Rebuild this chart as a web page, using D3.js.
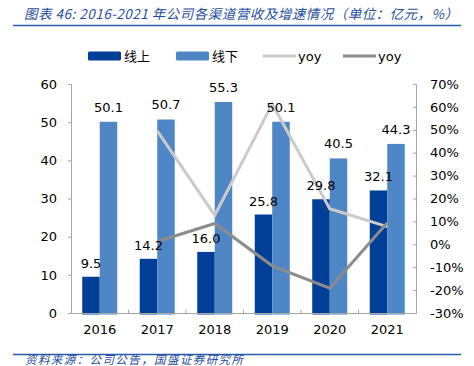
<!DOCTYPE html>
<html>
<head>
<meta charset="utf-8">
<script src="https://cdn.jsdelivr.net/npm/d3@7"></script>
<style>
  body { margin: 0; background: #fff; }
  svg { display: block; }
</style>
</head>
<body>
<div id="chart"></div>
<script>
// chart data
var years = ["2016", "2017", "2018", "2019", "2020", "2021"];
var online = [9.5, 14.2, 16.0, 25.8, 29.8, 32.1];
var offline = [50.1, 50.7, 55.3, 50.1, 40.5, 44.3];
var onlineYoy = [null, 49.5, 12.7, 61.3, 15.5, 7.7];
var offlineYoy = [null, 1.2, 9.1, -9.4, -19.2, 9.4];
var leftTicks = [0, 10, 20, 30, 40, 50, 60];
var rightTicks = [-30, -20, -10, 0, 10, 20, 30, 40, 50, 60, 70];

var width = 474, height = 366;
var plotLeft = 71, plotRight = 416, plotTop = 84, plotBottom = 313;
var numFont = "'DejaVu Sans', Verdana, sans-serif";
var cjkFont = "'Noto Sans CJK SC', sans-serif";

var svg = d3.select("#chart").append("svg")
    .attr("width", width)
    .attr("height", height);

// title + rules
svg.append("text")
    .attr("x", 24).attr("y", 19)
    .attr("fill", "#1f4e9e")
    .attr("font-family", cjkFont)
    .attr("font-size", 13.5)
    .attr("font-style", "italic")
    .attr("textLength", 434)
    .attr("lengthAdjust", "spacing")
    .text("图表 46:  2016-2021 年公司各渠道营收及增速情况（单位：亿元，%）");
svg.append("line")
    .attr("x1", 13).attr("x2", 461).attr("y1", 25.5).attr("y2", 25.5)
    .attr("stroke", "#2a5ba8").attr("stroke-width", 1.5);
svg.append("line")
    .attr("x1", 13).attr("x2", 461).attr("y1", 354.5).attr("y2", 354.5)
    .attr("stroke", "#2a5ba8").attr("stroke-width", 1.5);
svg.append("text")
    .attr("x", 25).attr("y", 363.5)
    .attr("fill", "#1f4e9e")
    .attr("font-family", cjkFont)
    .attr("font-size", 11.5)
    .attr("font-style", "italic")
    .attr("textLength", 218)
    .attr("lengthAdjust", "spacing")
    .text("资料来源：公司公告，国盛证券研究所");

// scales
var x = d3.scaleBand().domain(years).range([plotLeft, plotRight]);
var y = d3.scaleLinear().domain([0, 60]).range([plotBottom, plotTop]);
var y2 = d3.scaleLinear().domain([-30, 70]).range([plotBottom, plotTop]);
var barW = 17.5;

// axes
var axisColor = "#a6a6a6";
var gl = svg.append("g").attr("transform", "translate(" + plotLeft + ",0)")
    .call(d3.axisLeft(y).tickValues(leftTicks).tickSize(3).tickPadding(11));
var gr = svg.append("g").attr("transform", "translate(" + plotRight + ",0)")
    .call(d3.axisRight(y2).tickValues(rightTicks).tickSize(-3).tickPadding(14)
        .tickFormat(function (d) { return d + "%"; }));
[gl, gr].forEach(function (g) {
    g.select(".domain").attr("stroke", axisColor);
    g.selectAll(".tick line").attr("stroke", axisColor);
    g.selectAll(".tick text")
        .attr("fill", "#000")
        .attr("font-family", numFont)
        .attr("font-size", 13);
});

// bars
svg.append("g").selectAll("rect").data(years).join("rect")
    .attr("x", function (d) { return x(d) + x.bandwidth() / 2 - barW; })
    .attr("y", function (d, i) { return y(online[i]); })
    .attr("width", barW)
    .attr("height", function (d, i) { return y(0) - y(online[i]) + 1.5; })
    .attr("fill", "#003f97");
svg.append("g").selectAll("rect").data(years).join("rect")
    .attr("x", function (d) { return x(d) + x.bandwidth() / 2; })
    .attr("y", function (d, i) { return y(offline[i]); })
    .attr("width", barW)
    .attr("height", function (d, i) { return y(0) - y(offline[i]) + 1.5; })
    .attr("fill", "#4f86c6");

// x axis
var gx = svg.append("g").attr("transform", "translate(0," + plotBottom + ")")
    .call(d3.axisBottom(x).tickSize(0).tickPadding(12));
gx.select(".domain").attr("stroke", axisColor);
gx.selectAll(".tick text")
    .attr("fill", "#000")
    .attr("font-family", numFont)
    .attr("font-size", 13);
gx.selectAll("line.sep").data(years.slice(1)).join("line")
    .attr("class", "sep")
    .attr("x1", function (d) { return x(d); })
    .attr("x2", function (d) { return x(d); })
    .attr("y1", -3).attr("y2", 0)
    .attr("stroke", axisColor);

// yoy lines
var line = d3.line()
    .defined(function (d) { return d != null; })
    .x(function (d, i) { return x(years[i]) + x.bandwidth() / 2; })
    .y(function (d) { return y2(d); });
svg.append("path").datum(onlineYoy)
    .attr("d", line)
    .attr("fill", "none")
    .attr("stroke", "#cbcbcb")
    .attr("stroke-width", 3);
svg.append("path").datum(offlineYoy)
    .attr("d", line)
    .attr("fill", "none")
    .attr("stroke", "#8c8c8c")
    .attr("stroke-width", 3);

// value labels
svg.append("g").selectAll("text").data(years).join("text")
    .attr("x", function (d) { return x(d) + x.bandwidth() / 2 - barW / 2; })
    .attr("y", function (d, i) { return y(online[i]) - 9; })
    .attr("text-anchor", "middle")
    .attr("font-family", numFont)
    .attr("font-size", 13)
    .text(function (d, i) { return online[i].toFixed(1); });
svg.append("g").selectAll("text").data(years).join("text")
    .attr("x", function (d) { return x(d) + x.bandwidth() / 2 + barW / 2; })
    .attr("y", function (d, i) { return y(offline[i]) - 10; })
    .attr("text-anchor", "middle")
    .attr("font-family", numFont)
    .attr("font-size", 13)
    .text(function (d, i) { return offline[i].toFixed(1); });

// legend
var legend = [
    { name: "线上", color: "#003f97", type: "rect", x: 88 },
    { name: "线下", color: "#4f86c6", type: "rect", x: 176 },
    { name: "yoy", color: "#cbcbcb", type: "line", x: 263 },
    { name: "yoy", color: "#8c8c8c", type: "line", x: 343 }
];
var lg = svg.append("g").selectAll("g").data(legend).join("g")
    .attr("transform", function (d) { return "translate(" + d.x + ",56)"; });
lg.filter(function (d) { return d.type === "rect"; }).append("rect")
    .attr("x", 0).attr("y", -4.5).attr("width", 33).attr("height", 9).attr("rx", 1.5)
    .attr("fill", function (d) { return d.color; });
lg.filter(function (d) { return d.type === "line"; }).append("line")
    .attr("x1", 0).attr("x2", 33).attr("y1", 0).attr("y2", 0)
    .attr("stroke", function (d) { return d.color; })
    .attr("stroke-width", 3);
lg.append("text")
    .attr("x", function (d) { return d.type === "rect" ? 36 : 35; })
    .attr("y", 0)
    .attr("dy", "0.35em")
    .attr("font-family", function (d) { return d.type === "rect" ? cjkFont : numFont; })
    .attr("font-size", 13)
    .text(function (d) { return d.name; });
</script>
</body>
</html>
